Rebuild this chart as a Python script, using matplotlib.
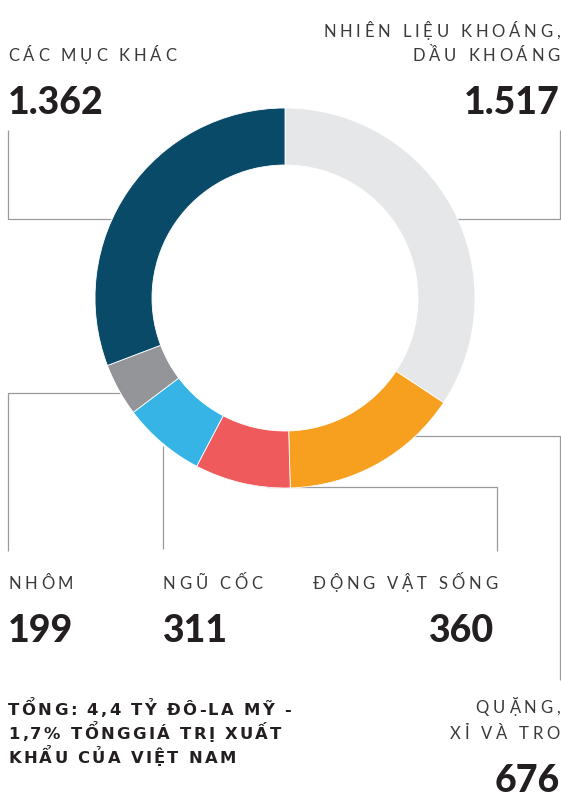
import matplotlib
matplotlib.use("Agg")
import matplotlib.pyplot as plt
from matplotlib.font_manager import FontProperties

# ---------------- data ----------------
categories = ["NHIÊN LIỆU KHOÁNG,\nDẦU KHOÁNG", "QUẶNG,\nXỈ VÀ TRO", "ĐỘNG VẬT SỐNG",
              "NGŨ CỐC", "NHÔM", "CÁC MỤC KHÁC"]
values = [1517, 676, 360, 311, 199, 1362]
colors = ["#e6e7e9", "#f79f1f", "#ef5a5d", "#37b4e6", "#939598", "#0a4a69"]
title_lines = ["TỔNG: 4,4 TỶ ĐÔ-LA MỸ -", "1,7% TỔNGGIÁ TRỊ XUẤT", "KHẨU CỦA VIỆT NAM"]

# ---------------- layout ----------------
W, H = 561, 798
fig = plt.figure(figsize=(W / 100, H / 100), dpi=100)
fig.patch.set_facecolor("white")
ax = fig.add_axes([0, 0, 1, 1])
ax.set_xlim(0, W)
ax.set_ylim(H, 0)
ax.axis("off")

cx, cy, R = 285, 298, 190
pax = fig.add_axes([(cx - R) / W, (H - cy - R) / H, 2 * R / W, 2 * R / H])
pax.pie(values, colors=colors, startangle=90, counterclock=False, radius=1,
        wedgeprops=dict(width=0.30, edgecolor="white", linewidth=0.6))
pax.set_xlim(-1, 1)
pax.set_ylim(-1, 1)
pax.axis("off")

renderer = fig.canvas.get_renderer()
FAM = ["Lato", "DejaVu Sans"]
fp_label = FontProperties(family=FAM, weight="normal", size=12)
fp_num = FontProperties(family=FAM, weight="black", size=27)
fp_title = FontProperties(family=["DejaVu Sans"], weight="bold", size=11.8)

LABEL_C = "#3a3a3c"
NUM_C = "#231f20"
LINE_C = "#9a9a9a"


def tw(s, fp):
    w, h, d = renderer.get_text_width_height_descent(s, fp, ismath=False)
    return w


def adv(ch, fp):
    return tw("H" + ch + "H", fp) - tw("HH", fp)


def tracked(x, y, s, fp, track, ha="left", color=LABEL_C):
    advs = [adv(c, fp) for c in s]
    total = sum(advs) + track * (len(s) - 1)
    x0 = x - total if ha == "right" else x
    for c, a in zip(s, advs):
        if c != " ":
            ax.text(x0, y, c, fontproperties=fp, color=color, va="baseline", ha="left")
        x0 += a + track


# label layout: (anchor x, alignment, label baselines, number baseline, leader polyline)
layout = [
    (560, "right", [37, 61], 114, [(455, 219), (560, 219), (560, 130)]),
    (560, "right", [713, 739], 792, [(413, 436), (560, 436), (560, 680)]),
    (497, "right", [589], 642, [(267, 487), (497, 487), (497, 551)]),
    (163, "left", [589], 642, [(163, 446), (163, 549)]),
    (8, "left", [589], 642, [(120, 393), (8, 393), (8, 551)]),
    (8, "left", [61], 114, [(111, 219), (8, 219), (8, 130)]),
]

for cat, val, (x, ha, lys, ny, pts) in zip(categories, values, layout):
    xs = [p[0] for p in pts]
    ys = [p[1] for p in pts]
    ax.plot(xs, ys, color=LINE_C, lw=0.9, solid_capstyle="butt", zorder=1)
    for line, ly in zip(cat.split("\n"), lys):
        tracked(x, ly, line, fp_label, 3.8, ha=ha)
    num = f"{val:,}".replace(",", ".")
    nx = x - 3 if (ha == "right" and x == 497) else x
    ax.text(nx, ny, num, fontproperties=fp_num, color=NUM_C, ha=ha, va="baseline")

for line, ly in zip(title_lines, [715, 739, 763]):
    tracked(8, ly, line, fp_title, 2.3, color=NUM_C)

fig.savefig("out.png", dpi=100, facecolor="white")
